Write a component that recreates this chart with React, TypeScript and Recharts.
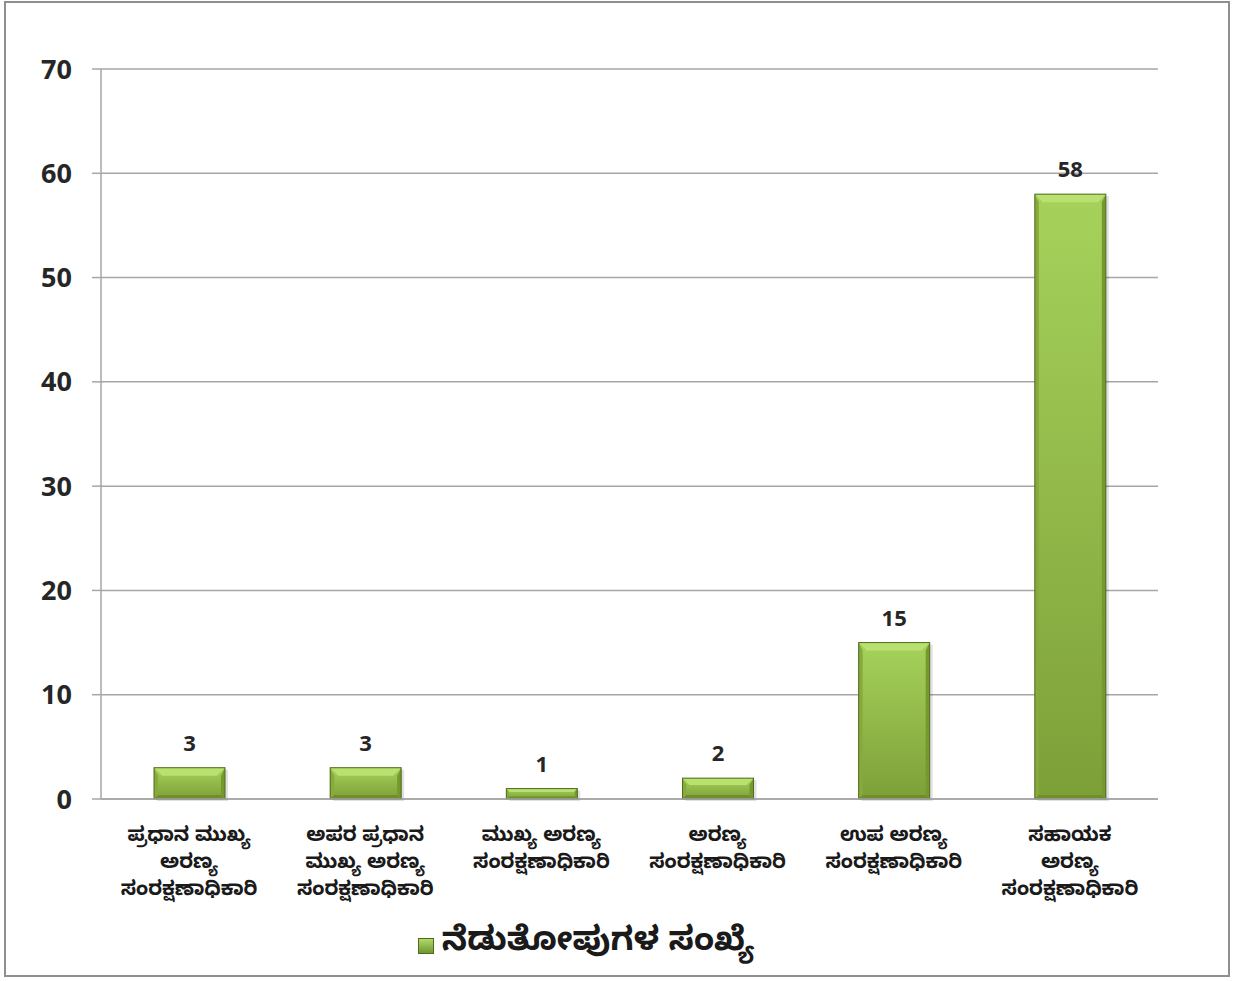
import React from "react";
import { BarChart, Bar, XAxis, YAxis, CartesianGrid, LabelList, Legend } from "recharts";

const categories: string[] = [
  "ಪ್ರಧಾನ ಮುಖ್ಯ\nಅರಣ್ಯ\nಸಂರಕ್ಷಣಾಧಿಕಾರಿ",
  "ಅಪರ ಪ್ರಧಾನ\nಮುಖ್ಯ ಅರಣ್ಯ\nಸಂರಕ್ಷಣಾಧಿಕಾರಿ",
  "ಮುಖ್ಯ ಅರಣ್ಯ\nಸಂರಕ್ಷಣಾಧಿಕಾರಿ",
  "ಅರಣ್ಯ\nಸಂರಕ್ಷಣಾಧಿಕಾರಿ",
  "ಉಪ ಅರಣ್ಯ\nಸಂರಕ್ಷಣಾಧಿಕಾರಿ",
  "ಸಹಾಯಕ\nಅರಣ್ಯ\nಸಂರಕ್ಷಣಾಧಿಕಾರಿ",
];
const counts: number[] = [3, 3, 1, 2, 15, 58];
const yTicks: number[] = [0, 10, 20, 30, 40, 50, 60, 70];
const seriesName = "ನೆಡುತೋಪುಗಳ ಸಂಖ್ಯೆ";

const data = categories.map((name, i) => ({ name, value: counts[i] }));

const KN = "'Noto Sans Kannada', 'Noto Sans', sans-serif";
const NUM = "'Open Sans', 'Noto Sans', sans-serif";
const GRID = "#a6a6a6";

const BevelBar = (props: any) => {
  const { x, y, width, height } = props;
  if (!height || height <= 0) return null;
  const b = Math.min(8, height / 3, width / 6);
  const s = Math.min(4, height / 4);
  return (
    <g>
      <rect x={x + 3} y={y + 2} width={width} height={height} fill="#000" opacity={0.12} />
      <rect x={x} y={y} width={width} height={height} fill="url(#barGrad)" />
      <polygon
        points={`${x},${y} ${x + width},${y} ${x + width - b},${y + b} ${x + b},${y + b}`}
        fill="#b9e170"
      />
      <polygon
        points={`${x},${y} ${x + s},${y + b} ${x + s},${y + height - s} ${x},${y + height}`}
        fill="#86ab3c"
      />
      <polygon
        points={`${x + width},${y} ${x + width - s},${y + b} ${x + width - s},${y + height - s} ${x + width},${y + height}`}
        fill="#76992f"
      />
      <polygon
        points={`${x},${y + height} ${x + s},${y + height - s} ${x + width - s},${y + height - s} ${x + width},${y + height}`}
        fill="#6f8f2c"
      />
      <rect x={x} y={y} width={width} height={height} fill="none" stroke="#4f6b1e" strokeWidth={1} />
    </g>
  );
};

const CategoryTick = (props: any) => {
  const { x, y, payload } = props;
  const lines: string[] = String(payload.value).split("\n");
  return (
    <g transform={`translate(${x},${y})`}>
      {lines.map((line, i) => (
        <text
          key={i}
          x={0}
          y={31 + i * 27}
          textAnchor="middle"
          dominantBaseline="central"
          fontFamily={KN}
          fontWeight={700}
          fontSize={20}
          fill="#1a1a1a"
        >
          {line}
        </text>
      ))}
    </g>
  );
};

const LegendContent = () => (
  <div
    style={{
      display: "flex",
      justifyContent: "center",
      alignItems: "center",
      fontFamily: KN,
      fontWeight: 700,
      fontSize: 33,
      color: "#1a1a1a",
      paddingLeft: 14,
    }}
  >
    <svg width={16} height={16} style={{ marginRight: 8 }}>
      <rect x={0.5} y={0.5} width={15} height={15} fill="url(#legGrad)" stroke="#4f6b1e" strokeWidth={1} />
    </svg>
    <span>{seriesName}</span>
  </div>
);

export default function App() {
  return (
    <div style={{ position: "absolute", left: 0, top: 0, width: 1235, height: 981, background: "#fff" }}>
      <div
        style={{
          position: "absolute",
          left: 4,
          top: 1,
          width: 1222,
          height: 972,
          border: "2px solid #8f8f8f",
        }}
      />
      <div style={{ position: "absolute", left: 0, top: 0 }}>
        <BarChart
          width={1235}
          height={981}
          data={data}
          margin={{ top: 69, right: 77, left: 0, bottom: 27 }}
          barCategoryGap="30%"
        >
          <defs>
            <linearGradient id="barGrad" x1="0" y1="0" x2="0" y2="1">
              <stop offset="0%" stopColor="#a6d25b" />
              <stop offset="100%" stopColor="#7d9f38" />
            </linearGradient>
            <linearGradient id="legGrad" x1="0" y1="0" x2="0" y2="1">
              <stop offset="0%" stopColor="#b2dc69" />
              <stop offset="100%" stopColor="#6f9430" />
            </linearGradient>
          </defs>
          <CartesianGrid vertical={false} stroke={GRID} strokeWidth={1.5} />
          <XAxis
            dataKey="name"
            interval={0}
            height={110}
            tick={<CategoryTick />}
            axisLine={{ stroke: GRID, strokeWidth: 1.5 }}
            tickLine={false}
          />
          <YAxis
            width={101}
            domain={[0, 70]}
            ticks={yTicks}
            interval={0}
            axisLine={{ stroke: GRID, strokeWidth: 1.5 }}
            tickLine={{ stroke: GRID, strokeWidth: 1.5 }}
            tickSize={9}
            tickMargin={20}
            tick={{ fontFamily: NUM, fontWeight: 700, fontSize: 27, fill: "#262626" }}
          />
          <Legend
            verticalAlign="bottom"
            content={<LegendContent />}
            wrapperStyle={{ bottom: 13 }}
          />
          <Bar dataKey="value" name={seriesName} shape={<BevelBar />} barSize={71} isAnimationActive={false}>
            <LabelList
              dataKey="value"
              position="top"
              offset={17}
              style={{ fontFamily: NUM, fontWeight: 700, fontSize: 22, fill: "#262626" }}
            />
          </Bar>
        </BarChart>
      </div>
    </div>
  );
}
